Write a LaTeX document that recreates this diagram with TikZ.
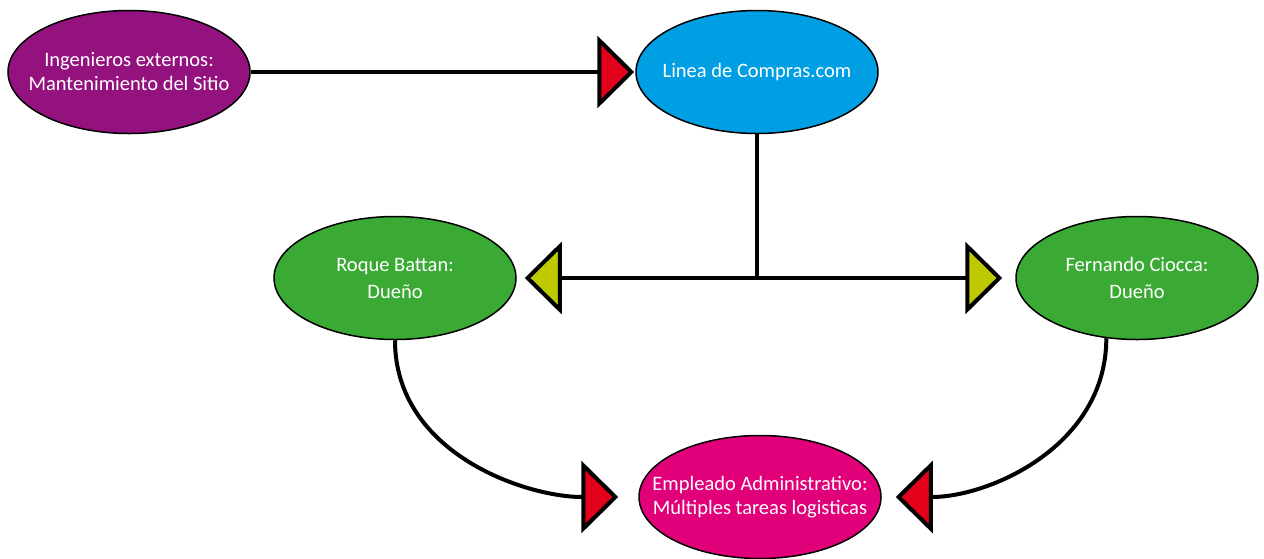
\documentclass[tikz,border=0pt]{standalone}
\usepackage{fontspec}
\setmainfont{Carlito}
\usetikzlibrary{shapes.geometric,arrows.meta}
\definecolor{cpurple}{RGB}{148,18,126}
\definecolor{cblue}{RGB}{0,159,227}
\definecolor{cgreen}{RGB}{58,170,53}
\definecolor{cpink}{RGB}{226,0,122}
\definecolor{cred}{RGB}{226,0,26}
\definecolor{cyell}{RGB}{190,202,0}
\tikzset{
  bubble/.style={ellipse,draw=black,line width=1.5pt,minimum width=242pt,minimum height=123pt,inner sep=0pt},
  txt/.style={text=white,align=center,inner sep=0pt,font=\fontsize{20.5}{24}\selectfont},
  wide/.style={font=\fontsize{20.5}{27}\selectfont},
  link/.style={line width=4pt,draw=black},
  rarrow/.style={link,-{Triangle[length=37pt,width=72pt,fill=cred,line width=4pt]}},
  yarrow/.style={link,-{Triangle[length=37pt,width=72pt,fill=cyell,line width=4pt]}},
}
\begin{document}
\begin{tikzpicture}[x=1pt,y=-1pt]
\useasboundingbox (0,0) rectangle (1264,558);
\node[bubble,fill=cpurple] (ing) at (129,72) {};
\node[txt] (ingt) at (ing) {Ingenieros externos:\\Mantenimiento del Sitio};
\node[bubble,fill=cblue] (lin) at (757,72) {};
\node[txt] (lint) at (lin) {Linea de Compras.com};
\node[bubble,fill=cgreen] (roq) at (395,278) {};
\node[txt,wide] (roqt) at (roq) {Roque Battan:\\Dueño};
\node[bubble,fill=cgreen] (fer) at (1137,278) {};
\node[txt,wide] (fert) at (fer) {Fernando Ciocca:\\Dueño};
\node[bubble,fill=cpink] (emp) at (760,497) {};
\node[txt] (empt) at (emp) {Empleado Administrativo:\\Múltiples tareas logisticas};
\coordinate (j) at (lin.south |- roq.center);
\draw[rarrow,shorten >=1pt] (ing.east) -- (lin.west);
\draw[link] (lin.south) -- (j);
\draw[yarrow,shorten >=8pt] (j) -- (roq.east);
\draw[yarrow,shorten >=13pt] (j) -- (fer.west);
\draw[rarrow,shorten >=20pt] (roq.south) to[out=-90,in=180] (emp.west);
\draw[rarrow,shorten >=14pt] (fer.243) to[out=-90,in=0] (emp.east);
\end{tikzpicture}
\end{document}
